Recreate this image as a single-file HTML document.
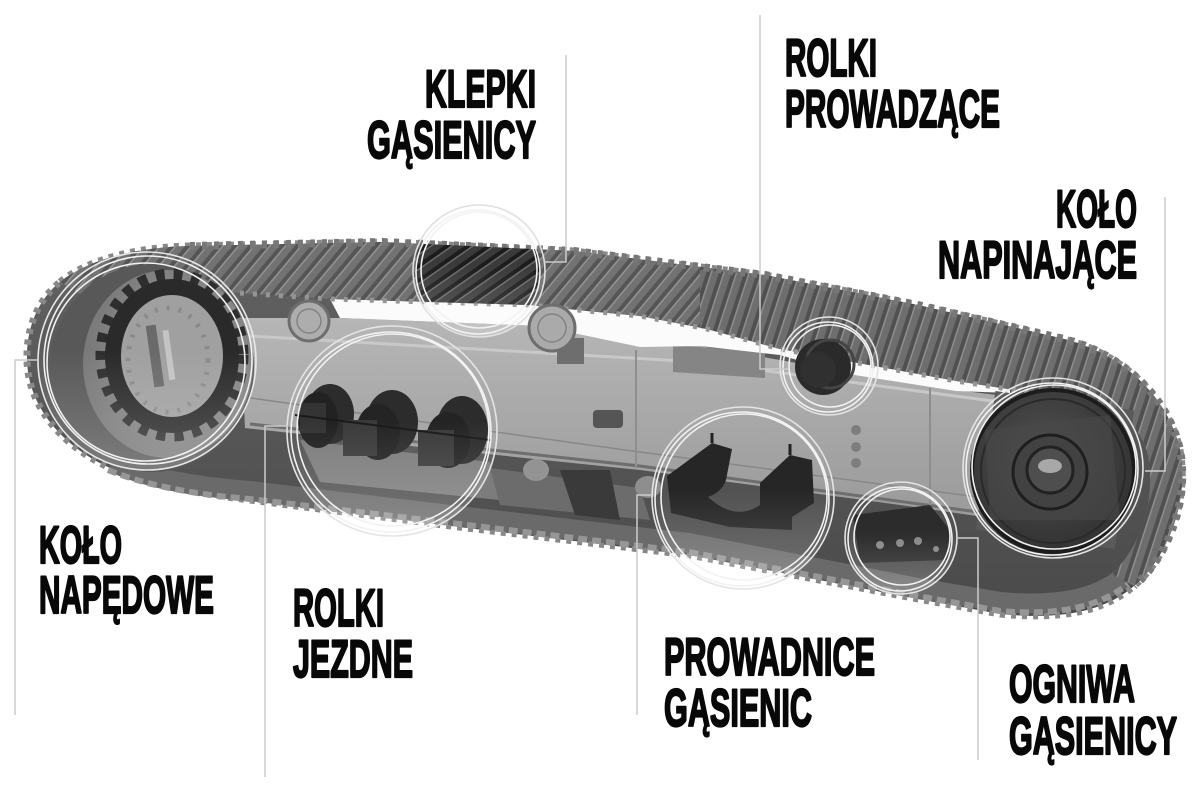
<!DOCTYPE html>
<html><head><meta charset="utf-8">
<style>
html,body{margin:0;padding:0;background:#fff;width:1200px;height:800px;overflow:hidden;}
svg{display:block;}
.t{font-family:"Liberation Sans Narrow","Liberation Sans",sans-serif;font-weight:700;font-size:53px;fill:#080808;stroke:#080808;stroke-width:2.2px;stroke-linejoin:round;}
</style></head><body>
<svg width="1200" height="800" viewBox="0 0 1200 800" xmlns="http://www.w3.org/2000/svg">
<defs>
<pattern id="gr" patternUnits="userSpaceOnUse" width="12" height="30" patternTransform="rotate(40)">
<rect width="12" height="30" fill="#727272"/>
<rect x="0" width="4" height="30" fill="#555"/>
<rect x="4" width="1.5" height="30" fill="#939393"/>
</pattern>
<pattern id="gr2" patternUnits="userSpaceOnUse" width="12" height="30" patternTransform="rotate(18)">
<rect width="12" height="30" fill="#6e6e6e"/>
<rect x="0" width="4" height="30" fill="#505050"/>
<rect x="4" width="1.5" height="30" fill="#8e8e8e"/>
</pattern>
<pattern id="grd" patternUnits="userSpaceOnUse" width="12" height="30" patternTransform="rotate(55)">
<rect width="12" height="30" fill="#3a3a3a"/>
<rect x="0" width="4" height="30" fill="#1c1c1c"/>
<rect x="4" width="1.5" height="30" fill="#6a6a6a"/>
</pattern>
<linearGradient id="fr" x1="0" y1="0" x2="0" y2="1">
<stop offset="0" stop-color="#b6b6b6"/><stop offset="1" stop-color="#9a9a9a"/></linearGradient>
<linearGradient id="low" x1="0" y1="0" x2="0" y2="1">
<stop offset="0" stop-color="#626262"/><stop offset="1" stop-color="#4a4a4a"/></linearGradient>
<linearGradient id="gl" x1="0" y1="0" x2="0" y2="1">
<stop offset="0.45" stop-color="#fff" stop-opacity="0"/><stop offset="1" stop-color="#fff" stop-opacity="0.22"/></linearGradient>
<radialGradient id="idl" cx="0.45" cy="0.4" r="0.65">
<stop offset="0" stop-color="#505050"/><stop offset="1" stop-color="#303030"/></radialGradient>
<radialGradient id="drv" cx="0.6" cy="0.45" r="0.6">
<stop offset="0" stop-color="#9c9c9c"/><stop offset="1" stop-color="#787878"/></radialGradient>
<clipPath id="ck"><circle cx="478" cy="271" r="63"/></clipPath>
</defs>

<!-- track base -->
<path d="M60,282 C90,258 140,247 190,246 L383,242 L574,251 L765,275 L918,305 L1060,338 C1120,352 1168,395 1180,450 C1190,505 1165,560 1134,586 C1104,612 1060,620 1000,614 L918,599 L689,555 L459,527 L250,500 C200,494 150,485 110,468 C60,445 28,405 27,360 C26,325 40,298 60,282 Z" fill="url(#low)"/>
<path d="M60,282 C90,258 140,247 190,246 L383,242 L574,251 L765,275 L918,305 L1060,338 C1120,352 1168,395 1180,450 C1190,505 1165,560 1134,586 C1104,612 1060,620 1000,614 L918,599 L689,555 L459,527 L250,500 C200,494 150,485 110,468 C60,445 28,405 27,360 C26,325 40,298 60,282 Z" fill="none" stroke="#888" stroke-width="7" stroke-dasharray="5 6"/>

<!-- lower band -->
<path d="M112,462 C150,480 200,487 250,491 L459,516 L689,543 L918,588 L1000,602 C1055,607 1095,600 1122,578" fill="none" stroke="#6a6a6a" stroke-width="20"/>
<path d="M108,470 C150,487 200,495 250,499 L459,524 L689,552 L918,596 L1000,611 C1058,616 1100,607 1128,584" fill="none" stroke="#969696" stroke-width="6" stroke-dasharray="9 5"/>

<!-- frame -->
<path d="M240,318 L340,318 L540,326 L700,346 L842,371 L956,390 L1005,396 L1005,520 L900,505 L640,470 L420,447 L245,428 Z" fill="url(#fr)"/>
<path d="M250,336 L700,362 L1000,402" fill="none" stroke="#c8c8c8" stroke-width="3"/>
<path d="M250,424 L640,466 L1000,515" fill="none" stroke="#6e6e6e" stroke-width="3"/>
<path d="M250,398 L640,452 L1000,500" fill="none" stroke="#888" stroke-width="1.5"/>
<path d="M673,345 L765,352 L765,378 L673,372 Z" fill="#858585"/>
<line x1="636" y1="350" x2="636" y2="468" stroke="#8e8e8e" stroke-width="2"/>
<line x1="930" y1="388" x2="930" y2="506" stroke="#8e8e8e" stroke-width="2"/>
<rect x="593" y="410" width="30" height="18" rx="4" fill="#555"/>
<circle cx="856" cy="430" r="5" fill="#7e7e7e"/><circle cx="856" cy="447" r="5" fill="#7e7e7e"/><circle cx="856" cy="463" r="5" fill="#7e7e7e"/>
<!-- lower structure below frame -->
<path d="M300,440 L490,462 L500,500 L320,482 Z" fill="#7c7c7c"/>
<path d="M490,468 L640,488 L650,520 L500,505 Z" fill="#6c6c6c"/>
<ellipse cx="536" cy="470" rx="13" ry="11" fill="#939393"/>
<ellipse cx="648" cy="487" rx="13" ry="11" fill="#8e8e8e"/>
<path d="M560,470 L610,470 L620,520 L575,515 Z" fill="#3a3a3a"/>

<!-- white gap -->
<path d="M330,299 L530,305 L587,311 L640,316 L707,329 L780,349 L842,360 L956,380 L1010,386 L1010,393 L956,391 L842,373 L780,355 L700,346 L640,347 L540,326 L340,318 Z" fill="#fbfbfb"/>

<!-- upper band -->
<path d="M60,282 C90,258 140,247 190,246 L383,242 L574,251 L765,275 L918,305 L1060,338 C1120,352 1168,395 1180,450 C1190,505 1165,560 1134,586 L1112,574 C1142,545 1156,500 1148,455 C1138,415 1100,396 1040,394 L956,381 L842,360 L780,349 L707,329 L640,316 L587,311 L530,305 L330,299 L240,293 C190,290 130,290 90,300 Z" fill="url(#gr)"/>
<path d="M700,270 L765,275 L918,305 L1060,338 C1120,352 1168,395 1180,450 C1190,505 1165,560 1134,586 L1112,574 C1142,545 1156,500 1148,455 C1138,415 1100,396 1040,394 L956,381 L842,360 L780,349 L707,329 L700,328 Z" fill="url(#gr2)"/>
<path d="M190,246 L383,242 L574,251 L765,275 L918,305 L1060,338 C1120,352 1168,395 1180,450 C1190,505 1165,560 1134,586" fill="none" stroke="#777" stroke-width="8" stroke-dasharray="5 7"/>
<path d="M240,293 L330,299 L530,305 L587,311 L640,316 L707,329 L780,349 L842,360 L956,381 L1040,394" fill="none" stroke="#959595" stroke-width="5" stroke-dasharray="4 9"/>
<g clip-path="url(#ck)">
<path d="M190,246 L383,242 L574,251 L600,255 L600,312 L530,305 L330,299 Z" fill="url(#grd)"/>
</g>

<!-- carrier rollers -->
<rect x="557" y="338" width="27" height="26" fill="#6e6e6e"/>
<circle cx="309" cy="321" r="20" fill="#adadad" stroke="#6e6e6e" stroke-width="3"/>
<circle cx="309" cy="321" r="12" fill="none" stroke="#838383" stroke-width="1.5"/>
<circle cx="552" cy="328" r="23" fill="#aaaaaa" stroke="#6e6e6e" stroke-width="3"/>
<circle cx="552" cy="328" r="14" fill="none" stroke="#838383" stroke-width="1.5"/>

<!-- drive sprocket -->
<ellipse cx="152" cy="368" rx="102" ry="104" fill="#585858"/>
<ellipse cx="168" cy="364" rx="85" ry="94" fill="url(#drv)"/>
<ellipse cx="172" cy="355" rx="71" ry="81" fill="none" stroke="#2e2e2e" stroke-width="11" stroke-dasharray="9 9"/>
<ellipse cx="172" cy="356" rx="59" ry="69" fill="#a0a0a0" stroke="#2a2a2a" stroke-width="16"/>
<ellipse cx="168" cy="360" rx="40" ry="52" fill="none" stroke="#8a8a8a" stroke-width="5" stroke-dasharray="3 9"/>
<rect x="150" y="325" width="10" height="62" fill="#6a6a6a" transform="rotate(-8 155 356)"/>
<rect x="166" y="330" width="6" height="50" fill="#c4c4c4" transform="rotate(-8 169 356)"/>

<!-- lower rollers -->
<g>
<ellipse cx="330" cy="414" rx="24" ry="30" fill="#2c2c2c"/>
<ellipse cx="318" cy="420" rx="20" ry="28" fill="#222"/>
<rect x="300" y="403" width="26" height="30" fill="#343434"/>
<ellipse cx="392" cy="422" rx="26" ry="32" fill="#2c2c2c"/>
<ellipse cx="378" cy="432" rx="22" ry="28" fill="#242424"/>
<rect x="343" y="420" width="34" height="36" fill="#3a3a3a"/>
<ellipse cx="462" cy="430" rx="26" ry="34" fill="#2c2c2c"/>
<ellipse cx="448" cy="440" rx="22" ry="28" fill="#242424"/>
<rect x="418" y="430" width="36" height="36" fill="#3a3a3a"/>
<line x1="295" y1="415" x2="490" y2="440" stroke="#1a1a1a" stroke-width="2"/>
</g>

<!-- rolki prowadzace roller -->
<circle cx="823" cy="367" r="28" fill="#2a2a2a"/>
<circle cx="830" cy="364" r="24" fill="none" stroke="#444" stroke-width="3"/>
<circle cx="818" cy="370" r="18" fill="#303030"/>

<!-- track guide bracket -->
<path d="M667,476 L712,443 L732,449 L726,480 Q722,492 708,497 Q735,522 760,505 L760,483 L790,455 L812,460 L814,503 L792,517 L792,530 L730,527 L671,513 Z" fill="#262626"/>
<line x1="712" y1="443" x2="712" y2="433" stroke="#222" stroke-width="3"/>
<line x1="790" y1="455" x2="790" y2="444" stroke="#222" stroke-width="3"/>

<!-- chain links -->
<path d="M853,515 L930,505 L950,530 L948,560 L860,563 Z" fill="#2c2c2c"/>
<circle cx="880" cy="545" r="4" fill="#888"/><circle cx="900" cy="543" r="4" fill="#888"/><circle cx="918" cy="541" r="4" fill="#888"/><circle cx="936" cy="549" r="3" fill="#888"/>

<!-- idler -->
<rect x="985" y="400" width="140" height="140" fill="#5a5a5a" transform="rotate(8 1055 470)"/>
<circle cx="1053" cy="471" r="81" fill="url(#idl)" stroke="#1c1c1c" stroke-width="4"/>
<circle cx="1053" cy="471" r="72" fill="none" stroke="#2a2a2a" stroke-width="2"/>
<path d="M985,430 L1110,415 L1120,520 L990,520 Z" fill="#4a4a4a" opacity="0.6"/>
<circle cx="1050" cy="472" r="37" fill="#424242" stroke="#1e1e1e" stroke-width="3"/>
<circle cx="1050" cy="470" r="23" fill="#4e4e4e" stroke="#222" stroke-width="3"/>
<ellipse cx="1050" cy="466" rx="12" ry="7" fill="#a8a8a8"/>

<!-- circles -->
<g fill="none" stroke="#f2f2f2" stroke-width="1.6">
<circle cx="147" cy="361" r="109" fill="url(#gl)" stroke="#e8e8e8"/>
<circle cx="148" cy="360" r="104"/>
<circle cx="146" cy="362" r="99"/>

<circle cx="479" cy="271" r="66" fill="url(#gl)" stroke="#e0e0e0"/>
<circle cx="478" cy="272" r="62"/>
<circle cx="479" cy="270" r="58"/>

<circle cx="392" cy="431" r="105" fill="url(#gl)" stroke="#e4e4e4"/>
<circle cx="391" cy="432" r="100"/>
<circle cx="393" cy="430" r="96"/>

<circle cx="829" cy="366" r="49" fill="none" stroke="#e4e4e4"/>
<circle cx="828" cy="367" r="45"/>
<circle cx="830" cy="366" r="41"/>

<circle cx="743" cy="498" r="91" fill="url(#gl)" stroke="#e4e4e4"/>
<circle cx="742" cy="499" r="87"/>
<circle cx="744" cy="497" r="83"/>

<circle cx="901" cy="538" r="56" fill="url(#gl)" stroke="#e4e4e4"/>
<circle cx="900" cy="539" r="52"/>
<circle cx="902" cy="537" r="48"/>

<circle cx="1053" cy="468" r="90" fill="none" stroke="#e4e4e4"/>
<circle cx="1052" cy="469" r="86"/>
<circle cx="1054" cy="467" r="82"/>
</g>

<!-- leader lines -->
<g fill="none" stroke="#cccccc" stroke-width="1.5">
<path d="M566,55 V262 H544"/>
<path d="M760,15 V369 H788"/>
<path d="M1165,197 V471 H1145"/>
<path d="M15,715 V360 H38"/>
<path d="M265,777 V426 H288"/>
<path d="M637,715 V495 H652"/>
<path d="M978,760 V538 H958"/>
</g>

<!-- labels -->
<text class="t" x="425" y="107" textLength="111" lengthAdjust="spacingAndGlyphs">KLEPKI</text>
<text class="t" x="367" y="158" textLength="169" lengthAdjust="spacingAndGlyphs">GĄSIENICY</text>
<text class="t" x="785" y="76" textLength="92" lengthAdjust="spacingAndGlyphs">ROLKI</text>
<text class="t" x="785" y="127" textLength="215" lengthAdjust="spacingAndGlyphs">PROWADZĄCE</text>
<text class="t" x="1056" y="227" textLength="81" lengthAdjust="spacingAndGlyphs">KOŁO</text>
<text class="t" x="938" y="278" textLength="199" lengthAdjust="spacingAndGlyphs">NAPINAJĄCE</text>
<text class="t" x="39" y="563" textLength="83" lengthAdjust="spacingAndGlyphs">KOŁO</text>
<text class="t" x="39" y="613" textLength="175" lengthAdjust="spacingAndGlyphs">NAPĘDOWE</text>
<text class="t" x="293" y="626" textLength="91" lengthAdjust="spacingAndGlyphs">ROLKI</text>
<text class="t" x="293" y="677" textLength="120" lengthAdjust="spacingAndGlyphs">JEZDNE</text>
<text class="t" x="664" y="675" textLength="211" lengthAdjust="spacingAndGlyphs">PROWADNICE</text>
<text class="t" x="664" y="726" textLength="148" lengthAdjust="spacingAndGlyphs">GĄSIENIC</text>
<text class="t" x="1009" y="702" textLength="126" lengthAdjust="spacingAndGlyphs">OGNIWA</text>
<text class="t" x="1009" y="754" textLength="168" lengthAdjust="spacingAndGlyphs">GĄSIENICY</text>
</svg>
</body></html>
